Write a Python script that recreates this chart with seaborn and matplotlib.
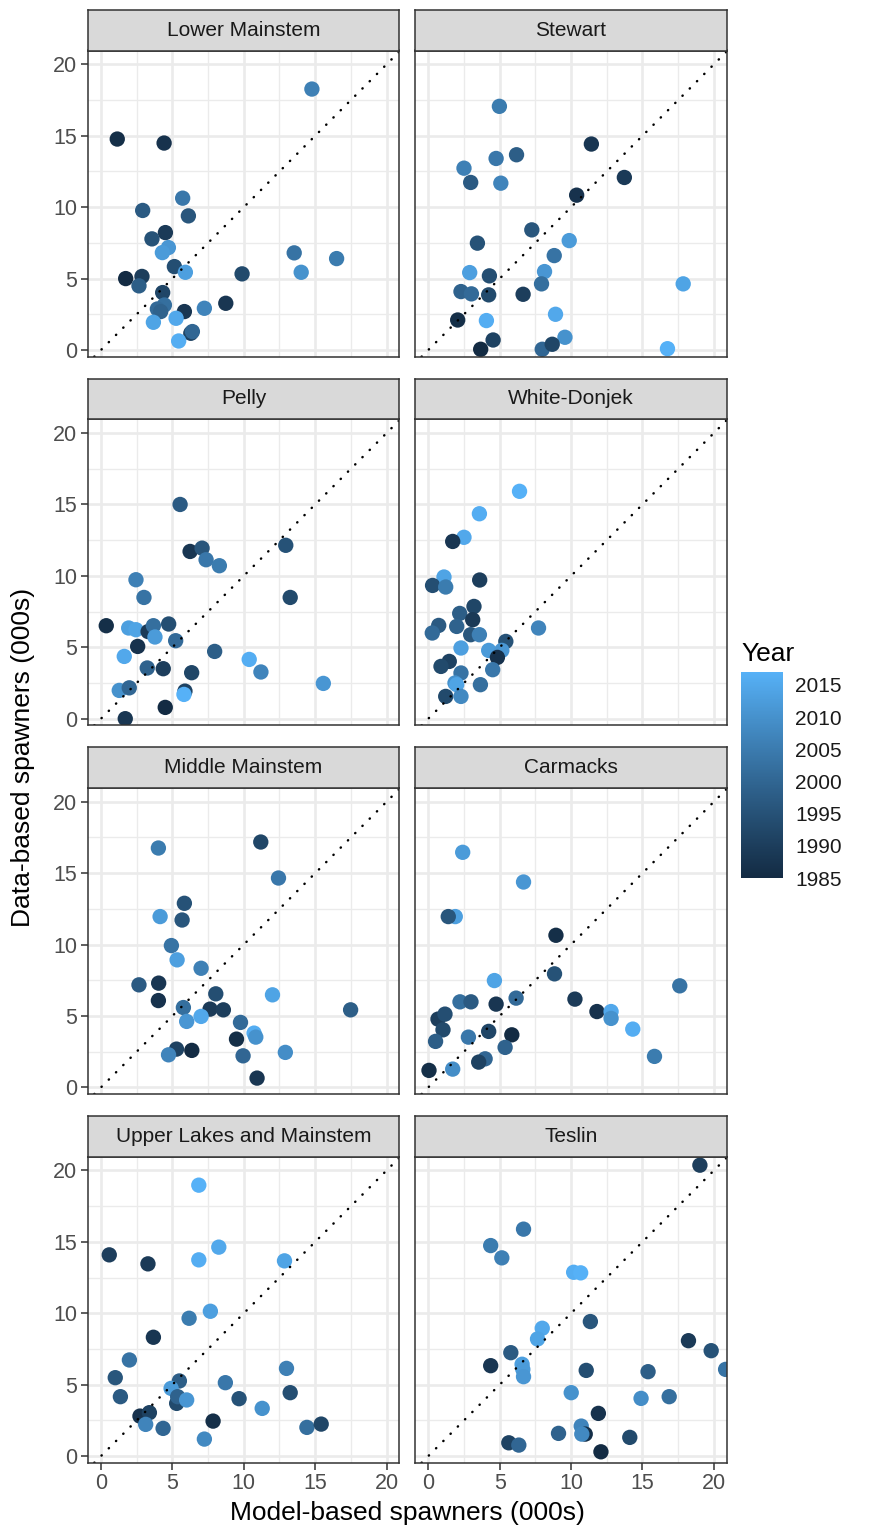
import numpy as np
import pandas as pd
import matplotlib
matplotlib.use("Agg")
import matplotlib.pyplot as plt
import seaborn as sns
from matplotlib.colors import ListedColormap, Normalize
from matplotlib.cm import ScalarMappable

sns.set_style("white")
plt.rcParams["font.family"] = ["Liberation Sans", "DejaVu Sans"]

# ---------------------------------------------------------------- data
stocks = ["Lower Mainstem", "Stewart", "Pelly", "White-Donjek",
          "Middle Mainstem", "Carmacks", "Upper Lakes and Mainstem", "Teslin"]

lower_model = [14.77, 1.14, 4.42, 5.72, 2.92, 6.12, 4.51, 3.57, 4.72, 4.30, 13.53, 16.50,
               5.14, 5.91, 9.88, 14.02, 1.73, 2.87, 2.66, 4.32, 4.44, 3.95, 4.18, 5.84,
               7.24, 8.74, 3.67, 5.26, 6.29, 6.40, 5.44]
lower_data = [18.27, 14.77, 14.49, 10.63, 9.77, 9.39, 8.22, 7.78, 7.17, 6.82, 6.80, 6.40,
              5.84, 5.44, 5.33, 5.44, 5.00, 5.15, 4.49, 4.02, 3.15, 2.87, 2.69, 2.69,
              2.92, 3.27, 1.94, 2.22, 1.17, 1.29, 0.63]
lower_year = [2006, 1986, 1987, 2004, 1997, 1996, 1989, 1995, 2011, 2012, 2003, 2005,
              1994, 2013, 1993, 2010, 1985, 1990, 1998, 1992, 2002, 2001, 1999, 1988,
              2007, 1988, 2014, 2015, 1991, 2000, 2016]

stewart_model = [4.98, 11.42, 6.18, 2.50, 4.75, 13.73, 2.97, 5.08, 10.39, 7.25, 3.44, 9.87,
                 8.82, 2.90, 8.14, 4.28, 7.93, 17.85, 2.29, 3.02, 4.23, 6.64, 8.91, 2.06,
                 4.07, 4.54, 3.67, 9.57, 7.98, 8.68, 16.75]
stewart_data = [17.06, 14.42, 13.67, 12.73, 13.41, 12.08, 11.73, 11.68, 10.84, 8.41, 7.48, 7.66,
                6.61, 5.42, 5.49, 5.19, 4.63, 4.63, 4.09, 3.93, 3.86, 3.90, 2.50, 2.10,
                2.06, 0.70, 0.05, 0.89, 0.05, 0.40, 0.09]
stewart_year = [2005, 1988, 1998, 2006, 2004, 1989, 1997, 2007, 1987, 1996, 1995, 2012,
                2003, 2013, 2011, 1994, 2002, 2014, 1999, 2001, 1993, 1990, 2015, 1986,
                2016, 1991, 1985, 2010, 2000, 1992, 2017]

pelly_model = [5.54, 6.24, 7.08, 7.36, 8.29, 12.94, 2.45, 3.01, 13.25, 0.37, 1.94, 2.45,
               3.30, 3.67, 4.74, 3.78, 5.23, 2.57, 1.63, 7.96, 3.24, 4.36, 6.35, 10.38,
               11.20, 15.57, 1.28, 1.98, 5.88, 5.81, 4.50, 1.70]
pelly_data = [15.00, 11.71, 11.94, 11.13, 10.71, 12.14, 9.73, 8.49, 8.49, 6.51, 6.35, 6.23,
              6.10, 6.51, 6.63, 5.72, 5.46, 5.06, 4.36, 4.71, 3.55, 3.50, 3.22, 4.15,
              3.27, 2.47, 1.98, 2.16, 1.93, 1.70, 0.79, 0.00]
pelly_year = [1997, 1988, 1996, 2004, 2005, 1995, 2006, 2003, 1993, 1986, 2013, 2014,
              1989, 2002, 1994, 2012, 2001, 1987, 2015, 1998, 1999, 1990, 1992, 2016,
              2007, 2011, 2010, 2000, 1991, 2017, 1985, 1988]

white_model = [6.39, 3.58, 2.50, 1.71, 1.10, 0.30, 1.22, 3.60, 3.20, 2.20, 3.11, 1.99,
               0.73, 0.28, 2.97, 3.58, 7.72, 5.43, 2.29, 4.23, 5.15, 4.84, 1.47, 0.89,
               4.51, 2.29, 1.87, 1.99, 3.65, 1.22, 2.29]
white_data = [15.92, 14.35, 12.70, 12.41, 9.92, 9.33, 9.22, 9.71, 7.86, 7.37, 6.93, 6.46,
              6.53, 6.00, 5.88, 5.88, 6.35, 5.41, 4.95, 4.78, 4.78, 4.29, 4.01, 3.66,
              3.43, 3.20, 2.50, 2.38, 2.38, 1.56, 1.56]
white_year = [2017, 2016, 2015, 1988, 2014, 1994, 2005, 1990, 1992, 1998, 1989, 1999,
              1997, 2001, 1996, 2006, 2007, 1995, 2013, 2012, 2011, 1987, 1991, 1993,
              2004, 2003, 2010, 2014, 2002, 1993, 2008]

middle_model = [4.02, 11.19, 12.43, 5.84, 4.14, 5.68, 4.93, 5.33, 7.01, 2.66, 4.04, 4.02,
                8.04, 12.01, 5.77, 7.64, 8.57, 17.48, 6.00, 7.01, 9.77, 10.72, 10.84, 9.49,
                5.29, 6.36, 4.73, 9.95, 12.91, 10.93]
middle_data = [16.76, 17.18, 14.66, 12.89, 11.96, 11.72, 9.93, 8.93, 8.34, 7.18, 7.30, 6.08,
               6.55, 6.48, 5.59, 5.48, 5.43, 5.43, 4.62, 4.97, 4.55, 3.80, 3.52, 3.38,
               2.68, 2.59, 2.28, 2.21, 2.45, 0.65]
middle_year = [2005, 1992, 2004, 1995, 2012, 1996, 2003, 2013, 2006, 1997, 1988, 1987,
               1994, 2014, 2002, 1989, 1990, 1998, 2011, 2015, 2001, 2016, 2010, 1986,
               1991, 1985, 2007, 2000, 2009, 1988]

carmacks_model = [2.41, 6.67, 1.89, 1.40, 8.94, 8.84, 17.61, 4.63, 2.22, 2.99, 4.75, 6.15,
                  10.27, 11.81, 12.80, 12.80, 14.32, 0.68, 1.17, 1.03, 0.51, 2.81, 4.23, 5.85,
                  5.38, 3.98, 3.53, 1.71, 0.05, 15.84]
carmacks_data = [16.46, 14.38, 11.96, 11.96, 10.65, 7.95, 7.11, 7.48, 5.99, 5.99, 5.83, 6.25,
                 6.18, 5.31, 5.31, 4.83, 4.08, 4.78, 5.13, 4.03, 3.22, 3.52, 3.92, 3.68,
                 2.80, 2.00, 1.77, 1.28, 1.19, 2.17]
carmacks_year = [2012, 2011, 2013, 1996, 1986, 1995, 2003, 2014, 2002, 1997, 1988, 2001,
                 1989, 1987, 2015, 2010, 2016, 1990, 1994, 1993, 1998, 2004, 1992, 1985,
                 1999, 2000, 1991, 2009, 1986, 2005]

upper_model = [6.85, 0.58, 3.29, 6.85, 8.25, 12.85, 6.17, 7.66, 3.67, 1.99, 1.00, 1.36,
               5.49, 4.91, 5.30, 5.37, 6.00, 8.71, 9.67, 11.29, 12.99, 13.25, 2.73, 3.39,
               3.13, 4.35, 7.85, 7.24, 14.42, 15.42]
upper_data = [18.97, 14.09, 13.46, 13.74, 14.63, 13.67, 9.65, 10.14, 8.32, 6.73, 5.49, 4.16,
              5.26, 4.74, 3.69, 4.16, 3.93, 5.14, 4.02, 3.34, 6.14, 4.44, 2.80, 3.04,
              2.22, 1.94, 2.45, 1.19, 2.01, 2.24]
upper_year = [2017, 1990, 1989, 2016, 2015, 2014, 2005, 2013, 1988, 2003, 1996, 1997,
              1998, 2012, 1993, 1999, 2011, 2004, 1995, 2010, 2006, 1994, 1987, 1991,
              2007, 2000, 1986, 2008, 2002, 1992]

teslin_model = [19.02, 6.67, 4.37, 5.15, 10.18, 10.67, 11.35, 7.98, 7.65, 18.22, 19.81, 5.78,
                4.37, 6.57, 6.62, 6.67, 11.06, 15.39, 20.82, 10.01, 14.90, 16.87, 11.91, 9.12,
                10.71, 10.99, 10.75, 14.11, 5.64, 6.34, 12.09]
teslin_data = [20.37, 15.89, 14.74, 13.88, 12.87, 12.83, 9.42, 8.95, 8.20, 8.08, 7.38, 7.24,
               6.33, 6.43, 6.07, 5.56, 6.00, 5.91, 6.07, 4.44, 4.04, 4.16, 2.99, 1.59,
               2.10, 1.54, 1.54, 1.31, 0.93, 0.77, 0.30]
teslin_year = [1990, 2004, 2005, 2006, 2016, 2017, 1996, 2015, 2014, 1989, 1995, 1997,
               1988, 2013, 2012, 2011, 1994, 1998, 2003, 2010, 2009, 2002, 1987, 1999,
               2007, 1986, 2008, 1993, 1991, 2000, 1985]

panel_series = [
    (lower_model, lower_data, lower_year),
    (stewart_model, stewart_data, stewart_year),
    (pelly_model, pelly_data, pelly_year),
    (white_model, white_data, white_year),
    (middle_model, middle_data, middle_year),
    (carmacks_model, carmacks_data, carmacks_year),
    (upper_model, upper_data, upper_year),
    (teslin_model, teslin_data, teslin_year),
]

frames = []
for name, (mx, dy, yr) in zip(stocks, panel_series):
    frames.append(pd.DataFrame({"stock": name, "model": mx, "data": dy, "year": yr}))
df = pd.concat(frames, ignore_index=True)

axis_ticks = [0, 5, 10, 15, 20]
year_ticks = [1985, 1990, 1995, 2000, 2005, 2010, 2015]
year_min, year_max = 1985, 2017


# ------------------------------------------------- colour gradient in Lab
def _srgb_to_lab(hexcol):
    rgb = np.array([int(hexcol[i:i + 2], 16) / 255 for i in (1, 3, 5)])
    lin = np.where(rgb <= 0.04045, rgb / 12.92, ((rgb + 0.055) / 1.055) ** 2.4)
    M = np.array([[0.4124564, 0.3575761, 0.1804375],
                  [0.2126729, 0.7151522, 0.0721750],
                  [0.0193339, 0.1191920, 0.9503041]])
    xyz = M @ lin / np.array([0.95047, 1.0, 1.08883])
    d = 6 / 29
    f = np.where(xyz > d ** 3, np.cbrt(xyz), xyz / (3 * d * d) + 4 / 29)
    return np.array([116 * f[1] - 16, 500 * (f[0] - f[1]), 200 * (f[1] - f[2])])


def _lab_to_srgb(lab):
    L, a, b = lab
    fy = (L + 16) / 116
    fx = fy + a / 500
    fz = fy - b / 200
    d = 6 / 29
    f = np.array([fx, fy, fz])
    xyz = np.where(f > d, f ** 3, 3 * d * d * (f - 4 / 29)) * np.array([0.95047, 1.0, 1.08883])
    Minv = np.array([[3.2404542, -1.5371385, -0.4985314],
                     [-0.9692660, 1.8760108, 0.0415560],
                     [0.0556434, -0.2040259, 1.0572252]])
    lin = Minv @ xyz
    rgb = np.where(lin <= 0.0031308, 12.92 * lin, 1.055 * np.clip(lin, 0, None) ** (1 / 2.4) - 0.055)
    return np.clip(rgb, 0, 1)


lab_lo = _srgb_to_lab("#132B43")
lab_hi = _srgb_to_lab("#56B1F7")
year_cmap = ListedColormap([_lab_to_srgb(lab_lo + t * (lab_hi - lab_lo))
                            for t in np.linspace(0, 1, 256)])
year_norm = Normalize(year_min, year_max)

# ---------------------------------------------------------------- layout
W, H = 873, 1539
fig = plt.figure(figsize=(W / 100, H / 100), dpi=100)


def rect(left, top, width, height):
    return [left / W, 1 - (top + height) / H, width / W, height / H]


col_left = [87.7, 415.0]
panel_w = 311.6
panel_h = 306.2
strip_h = 40.5
row_top = [50.5 + k * 368.7 for k in range(4)]
frame_col = "#333333"

for i, name in enumerate(stocks):
    r, c = divmod(i, 2)
    ax = fig.add_axes(rect(col_left[c], row_top[r], panel_w, panel_h))
    sub = df[df["stock"] == name]
    sns.scatterplot(data=sub, x="model", y="data", hue="year", palette=year_cmap,
                    hue_norm=(year_min, year_max), s=122, linewidth=0, alpha=1,
                    legend=False, ax=ax, zorder=3)
    ax.axline((0, 0), slope=1, color="black", lw=1.8,
              linestyle=(0, (0.1, 4.0)), dash_capstyle="round", zorder=4)

    ax.set_xlim(-0.93, 20.89)
    ax.set_ylim(-0.47, 20.97)
    ax.set_xticks(axis_ticks)
    ax.set_yticks(axis_ticks)
    ax.set_xticks([2.5, 7.5, 12.5, 17.5], minor=True)
    ax.set_yticks([2.5, 7.5, 12.5, 17.5], minor=True)
    ax.grid(which="major", color="#EBEBEB", lw=1.9)
    ax.grid(which="minor", color="#EBEBEB", lw=0.95)
    ax.set_axisbelow(True)
    ax.set_facecolor("white")
    ax.set_xlabel("")
    ax.set_ylabel("")
    for sp in ax.spines.values():
        sp.set_visible(True)
        sp.set_color(frame_col)
        sp.set_linewidth(1.1)
        sp.set_zorder(5)

    ax.tick_params(which="minor", length=0)
    ax.tick_params(which="major", length=4.7, width=1.1, color=frame_col,
                   labelsize=15.5, labelcolor="#4D4D4D", pad=3)
    ax.tick_params(axis="x", bottom=(r == 3), labelbottom=(r == 3))
    ax.tick_params(axis="y", left=(c == 0), labelleft=(c == 0))
    ax.set_xticklabels([str(t) for t in axis_ticks])
    ax.set_yticklabels([str(t) for t in axis_ticks])

    # facet strip
    sax = fig.add_axes(rect(col_left[c], row_top[r] - strip_h, panel_w, strip_h))
    sax.set_facecolor("#D9D9D9")
    sax.set_xticks([])
    sax.set_yticks([])
    for sp in sax.spines.values():
        sp.set_visible(True)
        sp.set_color(frame_col)
        sp.set_linewidth(1.1)
    sax.text(0.5, 0.5, name, ha="center", va="center", fontsize=15,
             color="#1A1A1A", transform=sax.transAxes)

# axis titles
fig.text(407 / W, 1 - 1513 / H, "Model-based spawners (000s)", ha="center",
         va="center", fontsize=19, color="black")
fig.text(23 / W, 1 - 757 / H, "Data-based spawners (000s)", ha="center",
         va="center", rotation=90, fontsize=19, color="black")

# colour bar legend
cax = fig.add_axes(rect(741, 672, 42, 206))
cb = fig.colorbar(ScalarMappable(norm=year_norm, cmap=year_cmap), cax=cax)
cb.outline.set_visible(False)
cb.set_ticks(year_ticks)
cax.tick_params(axis="y", direction="in", length=7, width=1.2, color="white",
                left=True, right=True, labelsize=15, labelcolor="#1A1A1A", pad=9)
fig.text(741 / W, 1 - 654 / H, "Year", ha="left", va="center", fontsize=19,
         color="black")

fig.savefig("out.png", dpi=100, facecolor="white")
